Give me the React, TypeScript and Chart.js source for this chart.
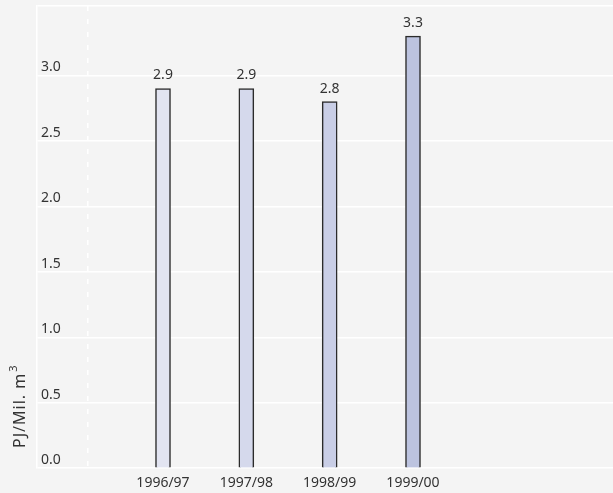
import React, { useEffect, useRef } from "react";
import { Chart, registerables } from "chart.js";

Chart.register(...registerables);

const categories = ["1996/97", "1997/98", "1998/99", "1999/00"];
const values = [2.9, 2.9, 2.8, 3.3];
const barColors = ["#e2e4f1", "#d5d9ec", "#c9cee6", "#bcc3df"];
const yTickValues = [0, 0.5, 1, 1.5, 2, 2.5, 3];
const yMax = 3.53;
const xMin = -0.512;
const xMax = 6.4;
const dashedLinePos = 0.094;
const yTitle = "PJ/Mil. m";
const yTitleSup = "3";

const FONT = "'Noto Sans', 'DejaVu Sans', sans-serif";
const TEXT = "#333333";

const valueLabels = {
  id: "valueLabels",
  afterDatasetsDraw(chart: any) {
    const ctx = chart.ctx;
    const meta = chart.getDatasetMeta(0);
    ctx.save();
    ctx.font = `14px ${FONT}`;
    ctx.fillStyle = TEXT;
    ctx.textAlign = "center";
    ctx.textBaseline = "alphabetic";
    meta.data.forEach((bar: any, i: number) => {
      ctx.fillText(values[i].toFixed(1), bar.x, bar.y - 9);
    });
    ctx.restore();
  },
};

const yTitlePlugin = {
  id: "yTitlePlugin",
  afterDraw(chart: any) {
    const ctx = chart.ctx;
    ctx.save();
    ctx.translate(25, 448);
    ctx.rotate(-Math.PI / 2);
    ctx.font = `16px ${FONT}`;
    ctx.fillStyle = TEXT;
    ctx.textAlign = "left";
    ctx.textBaseline = "alphabetic";
    try {
      (ctx as any).letterSpacing = "1px";
    } catch (e) {}
    ctx.fillText(yTitle, 0, 0);
    const w = ctx.measureText(yTitle).width;
    ctx.font = `11px ${FONT}`;
    ctx.fillText(yTitleSup, w + 1, -8);
    ctx.restore();
  },
};

export default function App() {
  const canvasRef = useRef<HTMLCanvasElement | null>(null);

  useEffect(() => {
    document.body.style.margin = "0";
    document.body.style.background = "#f4f4f4";
    const canvas = canvasRef.current;
    if (!canvas) return;
    const chart = new Chart(canvas, {
      type: "bar",
      data: {
        datasets: [
          {
            data: values.map((v, i) => ({ x: i + 1, y: v })),
            backgroundColor: barColors,
            borderColor: "#2b2b2b",
            borderWidth: 1.5,
            barThickness: 15,
          },
        ],
      },
      options: {
        animation: false,
        responsive: false,
        devicePixelRatio: 1,
        layout: { padding: { left: 29, top: 6, right: 0, bottom: -4 } },
        plugins: {
          legend: { display: false },
          tooltip: { enabled: false },
        },
        scales: {
          x: {
            type: "linear",
            min: xMin,
            max: xMax,
            offset: false,
            afterBuildTicks: (scale: any) => {
              scale.ticks = [dashedLinePos, 1, 2, 3, 4].map((v) => ({ value: v }));
            },
            ticks: {
              autoSkip: false,
              maxRotation: 0,
              padding: 6,
              color: TEXT,
              font: { family: FONT, size: 14 },
              callback: (value: any) => {
                const v = Number(value);
                return Number.isInteger(v) && v >= 1 ? categories[v - 1] : "";
              },
            },
            grid: {
              offset: false,
              drawTicks: false,
              lineWidth: 1.5,
              color: (ctx: any) =>
                ctx.tick && Math.abs(ctx.tick.value - dashedLinePos) < 1e-6
                  ? "#ffffff"
                  : "rgba(0,0,0,0)",
            },
            border: { display: false, dash: [5, 8] },
          },
          y: {
            type: "linear",
            min: 0,
            max: yMax,
            afterBuildTicks: (scale: any) => {
              scale.ticks = [...yTickValues, yMax].map((v) => ({ value: v }));
            },
            ticks: {
              mirror: true,
              padding: 4,
              labelOffset: -8,
              color: TEXT,
              font: (ctx: any) => ({
                family: FONT,
                size: ctx.tick && ctx.tick.value > 3.01 ? 2 : 14,
              }),
              callback: (value: any) => {
                const v = Number(value);
                return yTickValues.includes(v) ? v.toFixed(1) : "";
              },
            },
            grid: {
              drawTicks: false,
              color: "#ffffff",
              lineWidth: 1.5,
            },
            border: { display: true, color: "#ffffff", width: 1.5 },
          },
        },
      },
      plugins: [valueLabels, yTitlePlugin],
    } as any);
    return () => chart.destroy();
  }, []);

  return (
    <div style={{ width: 613, height: 493, background: "#f4f4f4", overflow: "hidden" }}>
      <canvas ref={canvasRef} width={613} height={493} style={{ display: "block" }} />
    </div>
  );
}
